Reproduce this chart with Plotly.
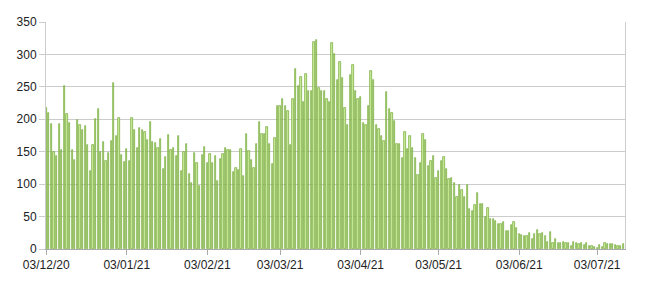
import datetime as dt
import plotly.graph_objects as go

start_date = "2020-12-03"
values = [
    217, 210, 192, 150, 144, 192, 152, 251, 208, 195,
    152, 138, 199, 191, 183, 189, 160, 121, 161, 201,
    216, 149, 165, 135, 148, 167, 256, 175, 202, 145,
    134, 154, 136, 202, 183, 156, 187, 183, 181, 168,
    196, 165, 163, 156, 170, 124, 142, 176, 152, 155,
    144, 174, 120, 150, 162, 115, 102, 148, 132, 97,
    145, 158, 133, 146, 132, 144, 105, 139, 146, 155,
    152, 153, 118, 125, 122, 154, 113, 177, 151, 137,
    125, 162, 196, 178, 178, 188, 162, 131, 171, 221,
    221, 232, 221, 213, 161, 231, 277, 252, 265, 226,
    270, 243, 243, 319, 323, 249, 244, 244, 231, 227,
    317, 300, 260, 288, 264, 217, 191, 268, 283, 244,
    231, 234, 194, 191, 220, 275, 260, 191, 185, 175,
    166, 242, 216, 210, 198, 162, 162, 140, 181, 154,
    174, 155, 141, 114, 132, 177, 168, 128, 136, 143,
    109, 120, 135, 142, 124, 108, 109, 102, 80, 99,
    91, 80, 99, 62, 59, 68, 86, 69, 69, 49,
    63, 47, 47, 43, 38, 38, 41, 28, 27, 37,
    41, 32, 23, 21, 20, 20, 24, 16, 23, 29,
    23, 25, 20, 11, 26, 9, 15, 10, 10, 11,
    9, 10, 4, 11, 9, 8, 9, 6, 9, 4,
    5, 3, 1, 6, 3, 10, 8, 7, 7, 6,
    5, 4, 7,
]
tick_dates = ["2020-12-03", "2021-01-03", "2021-02-03", "2021-03-03",
              "2021-04-03", "2021-05-03", "2021-06-03", "2021-07-03"]
tick_labels = ["03/12/20", "03/01/21", "03/02/21", "03/03/21",
               "03/04/21", "03/05/21", "03/06/21", "03/07/21"]
y_ticks = [0, 50, 100, 150, 200, 250, 300, 350]

d0 = dt.datetime.fromisoformat(start_date)
dates = [d0 + dt.timedelta(days=i) for i in range(len(values))]

fig = go.Figure()
fig.add_trace(go.Bar(
    x=dates, y=values,
    width=0.5 * 86400000,
    marker=dict(color="#cdee9c", line=dict(color="#6fa534", width=0.7)),
))

x_end = d0 + dt.timedelta(days=222.7)
fig.update_layout(
    width=650, height=284,
    margin=dict(l=46, r=25, t=22, b=35),
    paper_bgcolor="white", plot_bgcolor="white",
    showlegend=False,
    bargap=0,
    font=dict(family="Liberation Sans, Arial, sans-serif", size=12, color="#222"),
    xaxis=dict(
        type="date",
        range=[d0 - dt.timedelta(hours=2), x_end],
        tickvals=tick_dates, ticktext=tick_labels,
        showgrid=False,
        showline=True, linecolor="#aaaaaa", linewidth=1,
        mirror=False,
        ticks="outside", ticklen=5, tickcolor="#aaaaaa",
        tickfont=dict(size=12, color="#222"),
    ),
    yaxis=dict(
        range=[0, 350],
        tickvals=y_ticks,
        showgrid=True, gridcolor="#cccccc", gridwidth=1,
        showline=True, linecolor="#cccccc", linewidth=1, mirror=True,
        ticks="outside", ticklen=6, tickcolor="#cccccc",
        tickfont=dict(size=12, color="#222"),
        zeroline=False,
    ),
)

fig.write_html("out.html")
